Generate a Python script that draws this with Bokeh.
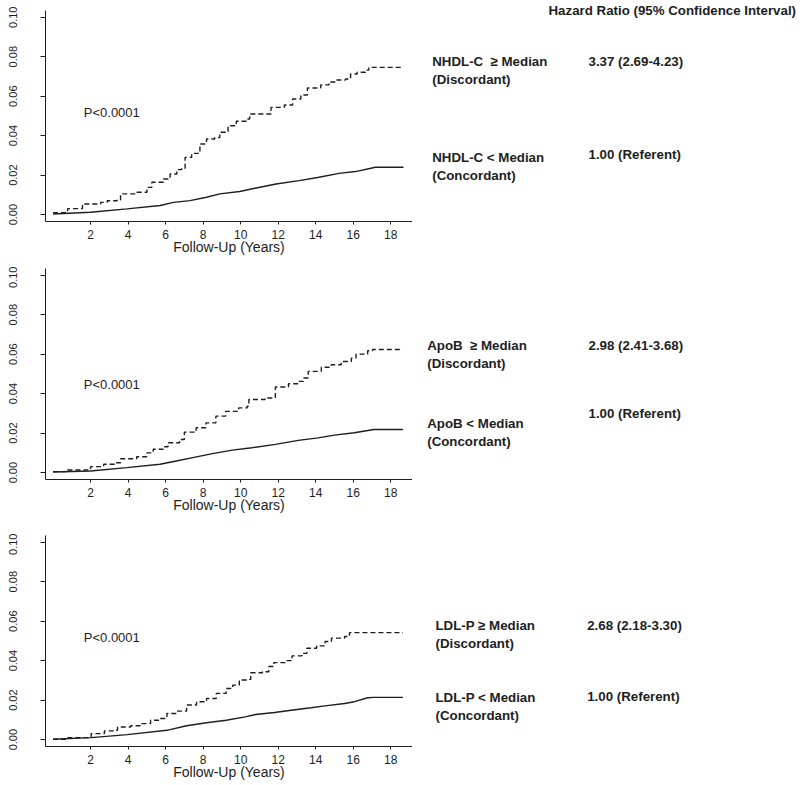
from bokeh.plotting import figure
from bokeh.layouts import row, column
from bokeh.models import Range1d, FixedTicker, PrintfTickFormatter, ColumnDataSource
from bokeh.core.properties import value
from bokeh.embed import file_html
from bokeh.resources import INLINE

FONT = "Liberation Sans"
INK = "#1e1e1e"

# ---------------- data ----------------
x_ticks = [2, 4, 6, 8, 10, 12, 14, 16, 18]
y_ticks = [0.0, 0.02, 0.04, 0.06, 0.08, 0.10]
x_title = "Follow-Up (Years)"
p_text = ["P<0.0001", "P<0.0001", "P<0.0001"]
p_text_y = [0.0517, 0.0445, 0.0519]

header = "Hazard Ratio (95% Confidence Interval)"
disc_label = ["NHDL-C\u00a0 \u2265 Median", "ApoB\u00a0 \u2265 Median", "LDL-P \u2265 Median"]
conc_label = ["NHDL-C < Median", "ApoB < Median", "LDL-P < Median"]
disc_sub = "(Discordant)"
conc_sub = "(Concordant)"
hazard_ratio = ["3.37 (2.69-4.23)", "2.98 (2.41-3.68)", "2.68 (2.18-3.30)"]
referent = "1.00 (Referent)"

# Panel 1: NHDL-C
nhdl_disc_t = [0.0, 0.78, 1.57, 2.54, 2.89, 3.42, 3.6, 4.48, 5.01, 5.27, 5.89, 6.24, 6.6,
               6.86, 7.04, 7.39, 7.83, 8.18, 8.62, 8.89, 9.33, 9.77, 10.3, 10.48, 11.36,
               11.62, 12.33, 12.77, 13.21, 13.56, 14.27, 14.71, 15.06, 15.59, 15.86,
               16.21, 16.65, 16.83, 18.68]
nhdl_disc_y = [0.001, 0.003, 0.0054, 0.0062, 0.007, 0.0074, 0.0105, 0.0113, 0.0138, 0.0164,
               0.018, 0.0206, 0.0228, 0.0235, 0.029, 0.031, 0.0358, 0.0383, 0.039, 0.0417,
               0.045, 0.0473, 0.0484, 0.051, 0.051, 0.0543, 0.0555, 0.0586, 0.0606, 0.0641,
               0.0657, 0.0672, 0.0682, 0.0687, 0.0712, 0.0721, 0.0732, 0.0746, 0.0746]
nhdl_conc_t = [0.0, 2.0, 3.95, 5.71, 6.42, 7.3, 8.18, 8.89, 9.95, 10.83, 11.89, 13.12,
               14.18, 15.24, 16.12, 17.18, 18.68]
nhdl_conc_y = [0.0003, 0.0012, 0.0029, 0.0046, 0.0062, 0.0071, 0.0088, 0.0105, 0.0117,
               0.0135, 0.0155, 0.0172, 0.0189, 0.0209, 0.0218, 0.024, 0.024]

# Panel 2: ApoB
apob_disc_t = [0.0, 0.77, 2.0, 2.7, 3.3, 3.6, 4.46, 5.0, 5.34, 5.87, 6.13, 6.75, 7.0, 7.63,
               8.15, 8.68, 9.2, 9.9, 10.35, 10.44, 11.3, 11.85, 12.55, 13.07, 13.34, 13.6,
               14.3, 14.83, 15.36, 15.9, 16.15, 16.77, 17.03, 18.65]
apob_disc_y = [0.0005, 0.0013, 0.003, 0.0042, 0.005, 0.007, 0.008, 0.010, 0.0118, 0.0131,
               0.0151, 0.0168, 0.0205, 0.0227, 0.0252, 0.0286, 0.031, 0.0328, 0.0336,
               0.037, 0.0378, 0.0434, 0.045, 0.0462, 0.0479, 0.0513, 0.0534, 0.0546,
               0.0563, 0.058, 0.060, 0.0617, 0.0624, 0.0624]
apob_conc_t = [0.0, 2.0, 3.94, 5.7, 6.57, 7.45, 8.5, 9.56, 10.6, 11.85, 13.07, 14.13, 15.0,
               16.06, 17.1, 18.65]
apob_conc_y = [0.0003, 0.0008, 0.0025, 0.0042, 0.0059, 0.0076, 0.0096, 0.0114, 0.0126,
               0.0143, 0.0163, 0.0176, 0.019, 0.0202, 0.0218, 0.0218]

# Panel 3: LDL-P
ldlp_disc_t = [0.0, 0.8, 2.03, 2.74, 3.26, 3.44, 4.14, 4.67, 5.2, 5.72, 6.07, 6.6, 7.12,
               7.65, 8.18, 8.7, 9.23, 9.58, 9.93, 10.37, 10.54, 11.16, 11.5, 11.77, 12.39,
               12.74, 13.26, 13.53, 14.05, 14.5, 14.84, 15.54, 15.8, 18.65]
ldlp_disc_y = [0.0002, 0.001, 0.003, 0.0044, 0.0047, 0.0064, 0.007, 0.0081, 0.0098, 0.0107,
               0.0132, 0.0144, 0.0175, 0.0192, 0.0208, 0.0234, 0.0259, 0.0276, 0.0302,
               0.0305, 0.0339, 0.0344, 0.037, 0.039, 0.040, 0.0424, 0.0437, 0.0463, 0.0475,
               0.0497, 0.0514, 0.0522, 0.0542, 0.0542]
ldlp_conc_t = [0.0, 2.03, 3.96, 6.07, 7.12, 8.18, 9.23, 10.25, 10.8, 11.8, 12.7, 13.75,
               14.5, 15.54, 16.07, 16.77, 17.1, 18.65]
ldlp_conc_y = [0.0002, 0.001, 0.0025, 0.0047, 0.007, 0.0085, 0.0098, 0.0115, 0.0127,
               0.0137, 0.0149, 0.0161, 0.0171, 0.0183, 0.0192, 0.0212, 0.0214, 0.0214]

panels = [
    (nhdl_disc_t, nhdl_disc_y, nhdl_conc_t, nhdl_conc_y),
    (apob_disc_t, apob_disc_y, apob_conc_t, apob_conc_y),
    (ldlp_disc_t, ldlp_disc_y, ldlp_conc_t, ldlp_conc_y),
]

# ---------------- layout (pixels) ----------------
fig_heights = [266, 267, 252]
border_top = [10, 2, 2]
border_bottom = [45, 54, 39]
PLOT_W = 412

plots = []
for i, (td, yd, tc, yc) in enumerate(panels):
    p = figure(width=PLOT_W, height=fig_heights[i],
               x_range=Range1d(-0.4, 19.16), y_range=Range1d(-0.0035, 0.1034),
               output_backend="svg", toolbar_location=None,
               min_border_left=45, min_border_right=0, min_border_top=border_top[i],
               min_border_bottom=border_bottom[i])
    p.outline_line_color = None
    p.grid.visible = False
    p.background_fill_color = "white"
    p.border_fill_color = "white"

    p.step(td, yd, mode="after", line_color=INK, line_width=1.4, line_dash="5 3")
    p.line(tc, yc, line_color=INK, line_width=1.4)

    src = ColumnDataSource(dict(x=[1.64], y=[p_text_y[i]], t=[p_text[i]]))
    p.text(x="x", y="y", text="t", source=src, text_font=value(FONT),
           text_font_size="13px", text_color=INK, text_baseline="middle",
           text_align="left")

    xa = p.xaxis[0]
    xa.ticker = FixedTicker(ticks=x_ticks)
    xa.minor_tick_line_color = None
    xa.major_tick_in = 0
    xa.major_tick_out = 3
    xa.major_label_standoff = 5
    xa.axis_label = x_title
    xa.axis_label_standoff = -3
    xa.axis_label_text_font = FONT
    xa.axis_label_text_font_size = "14px"
    xa.axis_label_text_font_style = "normal"
    xa.axis_label_text_color = INK
    xa.major_label_text_font = FONT
    xa.major_label_text_font_size = "12px"
    xa.major_label_text_color = INK
    xa.axis_line_color = INK
    xa.major_tick_line_color = INK

    ya = p.yaxis[0]
    ya.ticker = FixedTicker(ticks=y_ticks)
    ya.formatter = PrintfTickFormatter(format="%.2f")
    ya.minor_tick_line_color = None
    ya.major_tick_in = 0
    ya.major_tick_out = 5
    ya.major_label_standoff = 23
    ya.major_label_orientation = "vertical"
    ya.major_label_text_font = FONT
    ya.major_label_text_font_size = "11px"
    ya.major_label_text_color = INK
    ya.axis_line_color = INK
    ya.major_tick_line_color = INK
    plots.append(p)

# ---------------- right-hand text column ----------------
total_h = sum(fig_heights)
tf = figure(width=388, height=total_h, x_range=Range1d(412, 800),
            y_range=Range1d(total_h, 0), output_backend="svg",
            toolbar_location=None, min_border=0)
tf.axis.visible = False
tf.grid.visible = False
tf.outline_line_color = None

lab_x = [431.7, 426.7, 435.0]
hr_x = [588.0, 588.0, 586.7]
disc_y = [61, 345, 625]
conc_y = [157, 423, 697]
ref_y = [154, 413, 696]

texts, xs, ys = [header], [548.0], [9.5]
for i in range(3):
    texts += [disc_label[i], disc_sub, hazard_ratio[i], conc_label[i], conc_sub, referent]
    xs += [lab_x[i], lab_x[i], hr_x[i], lab_x[i], lab_x[i], hr_x[i]]
    ys += [disc_y[i], disc_y[i] + 17.5, disc_y[i], conc_y[i], conc_y[i] + 17.5, ref_y[i]]

tf.text(x=xs, y=ys, text=texts, text_font=value(FONT), text_font_size="13.3px",
        text_font_style="bold", text_color=INK, text_baseline="middle",
        text_align="left")

layout = row(column(*plots), tf)
open("out.html", "w").write(file_html(layout, INLINE))
